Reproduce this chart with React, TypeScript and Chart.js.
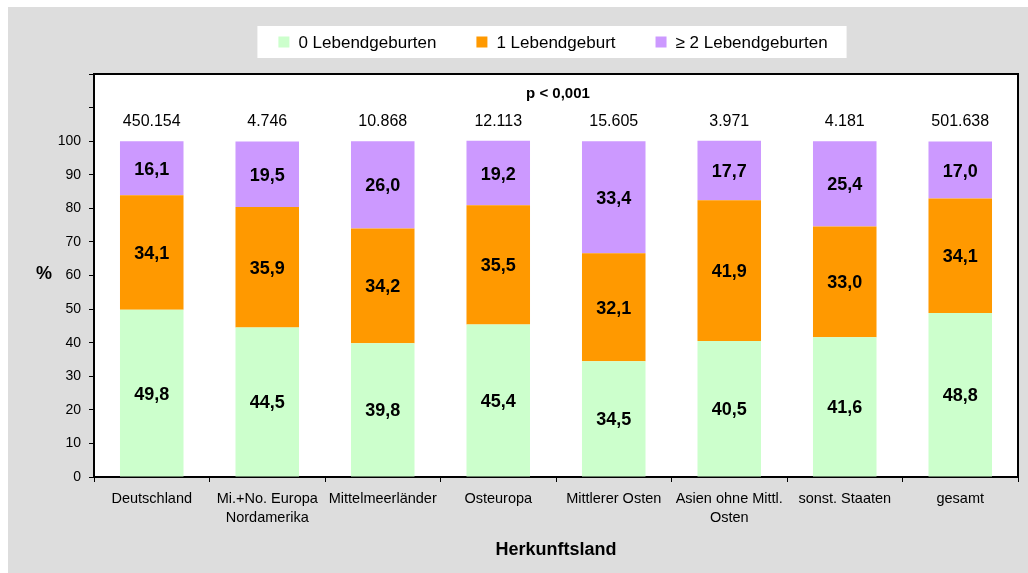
import React, { useEffect, useRef } from 'react';
import { Chart, registerables } from 'chart.js';

Chart.register(...registerables);

const FONT = "'Liberation Sans', Arial, Helvetica, sans-serif";

const categories: (string | string[])[] = [
  'Deutschland',
  ['Mi.+No. Europa', 'Nordamerika'],
  'Mittelmeerländer',
  'Osteuropa',
  'Mittlerer Osten',
  ['Asien ohne Mittl.', 'Osten'],
  'sonst. Staaten',
  'gesamt',
];

const seriesLabels = ['0 Lebendgeburten', '1 Lebendgeburt', '≥ 2 Lebendgeburten'];
const seriesColors = ['#CCFFCC', '#FF9900', '#CC99FF'];

const zeroBirths = [49.8, 44.5, 39.8, 45.4, 34.5, 40.5, 41.6, 48.8];
const oneBirth = [34.1, 35.9, 34.2, 35.5, 32.1, 41.9, 33.0, 34.1];
const twoPlusBirths = [16.1, 19.5, 26.0, 19.2, 33.4, 17.7, 25.4, 17.0];

const caseCounts = ['450.154', '4.746', '10.868', '12.113', '15.605', '3.971', '4.181', '501.638'];
const pValueText = 'p < 0,001';
const yAxisTitle = '%';
const xAxisTitle = 'Herkunftsland';

const yMin = 0;
const yMax = 120;
const yStep = 10;
const yLabelMax = 100;
const countsLevel = 106.3;
const pValueLevel = 114.6;

const fmt = (v: number) => v.toFixed(1).replace('.', ',');

const decorPlugin = {
  id: 'decor',
  beforeDraw(chart: any) {
    const { ctx, chartArea: a, width, height } = chart;
    ctx.save();
    ctx.fillStyle = '#DDDDDD';
    ctx.fillRect(0, 0, width, height);
    ctx.fillStyle = '#FFFFFF';
    ctx.fillRect(a.left, a.top, a.right - a.left, a.bottom - a.top);

    // legend
    ctx.font = `17px ${FONT}`;
    const box = 11;
    const gapText = 9;
    const spacing = 40;
    const datasets = chart.data.datasets;
    const widths = datasets.map((d: any) => box + gapText + ctx.measureText(d.label).width);
    const total = widths.reduce((s: number, w: number) => s + w, 0) + spacing * (datasets.length - 1);
    const cx = (a.left + a.right) / 2 - 3;
    const cy = 35;
    let x = cx - total / 2;
    ctx.fillStyle = '#FFFFFF';
    ctx.fillRect(x - 21, cy - 16, total + 40, 32);
    ctx.textBaseline = 'middle';
    ctx.textAlign = 'left';
    datasets.forEach((d: any, i: number) => {
      ctx.fillStyle = d.backgroundColor;
      ctx.fillRect(x, cy - box / 2, box, box);
      ctx.fillStyle = '#000000';
      ctx.fillText(d.label, x + box + gapText, cy + 1);
      x += widths[i] + spacing;
    });
    ctx.restore();
  },
  afterDatasetsDraw(chart: any) {
    const { ctx, chartArea: a, scales } = chart;
    const yScale = scales.y;
    ctx.save();
    // frame top & right
    ctx.strokeStyle = '#000000';
    ctx.lineWidth = 2;
    ctx.beginPath();
    ctx.moveTo(a.left, a.top);
    ctx.lineTo(a.right, a.top);
    ctx.lineTo(a.right, a.bottom);
    ctx.stroke();

    // value labels
    ctx.textAlign = 'center';
    ctx.textBaseline = 'middle';
    ctx.fillStyle = '#000000';
    ctx.font = `bold 18px ${FONT}`;
    chart.data.datasets.forEach((ds: any, i: number) => {
      const meta = chart.getDatasetMeta(i);
      meta.data.forEach((bar: any, j: number) => {
        const p = bar.getProps(['x', 'y', 'base'], true);
        ctx.fillText(fmt(ds.data[j]), p.x, (p.y + p.base) / 2 + 1.5);
      });
    });

    // counts
    ctx.font = `16px ${FONT}`;
    const meta0 = chart.getDatasetMeta(0);
    const cyCount = yScale.getPixelForValue(countsLevel) + 2;
    meta0.data.forEach((bar: any, j: number) => {
      ctx.fillText(caseCounts[j], bar.x, cyCount);
    });

    // p value
    ctx.font = `bold 15px ${FONT}`;
    ctx.fillText(pValueText, (a.left + a.right) / 2 + 2, yScale.getPixelForValue(pValueLevel) + 2);

    // y axis title (unrotated)
    ctx.font = `bold 18px ${FONT}`;
    ctx.fillText(yAxisTitle, 36, (a.top + a.bottom) / 2 - 1);
    ctx.restore();
  },
};

export default function App() {
  const canvasRef = useRef<HTMLCanvasElement | null>(null);

  useEffect(() => {
    if (!canvasRef.current) return;
    const chart = new Chart(canvasRef.current, {
      type: 'bar',
      data: {
        labels: categories,
        datasets: [
          { label: seriesLabels[0], data: zeroBirths, backgroundColor: seriesColors[0] },
          { label: seriesLabels[1], data: oneBirth, backgroundColor: seriesColors[1] },
          { label: seriesLabels[2], data: twoPlusBirths, backgroundColor: seriesColors[2] },
        ],
      },
      options: {
        animation: false,
        responsive: true,
        maintainAspectRatio: false,
        layout: { padding: { top: 67, right: 10, left: 0, bottom: 0 } },
        datasets: {
          bar: { categoryPercentage: 1, barPercentage: 0.55, borderWidth: 0 },
        },
        plugins: {
          legend: { display: false },
          tooltip: { enabled: false },
          title: { display: false },
        },
        scales: {
          x: {
            stacked: true,
            grid: {
              display: true,
              drawOnChartArea: false,
              drawTicks: true,
              tickLength: 5,
              color: '#000000',
              offset: true,
            },
            border: { display: true, color: '#000000', width: 2 },
            ticks: {
              color: '#000000',
              font: { family: FONT, size: 14.5, lineHeight: 1.3 },
              padding: 8,
              maxRotation: 0,
              autoSkip: false,
            },
            title: {
              display: true,
              text: xAxisTitle,
              color: '#000000',
              font: { family: FONT, size: 18, weight: 'bold' },
              padding: { top: 0, bottom: 12 },
            },
            afterFit: (s: any) => {
              s.height = 96;
            },
          },
          y: {
            stacked: true,
            min: yMin,
            max: yMax,
            grid: {
              display: true,
              drawOnChartArea: false,
              drawTicks: true,
              tickLength: 5,
              color: '#000000',
            },
            border: { display: true, color: '#000000', width: 2 },
            ticks: {
              stepSize: yStep,
              color: '#000000',
              font: { family: FONT, size: 14 },
              padding: 8,
              callback: (v: any) => (Number(v) <= yLabelMax ? String(v) : ''),
            },
            afterFit: (s: any) => {
              s.width = 86;
            },
          },
        },
      },
      plugins: [decorPlugin],
    });
    return () => chart.destroy();
  }, []);

  return (
    <div style={{ position: 'fixed', left: 8, top: 7, width: 1020, height: 566 }}>
      <canvas ref={canvasRef} />
    </div>
  );
}
